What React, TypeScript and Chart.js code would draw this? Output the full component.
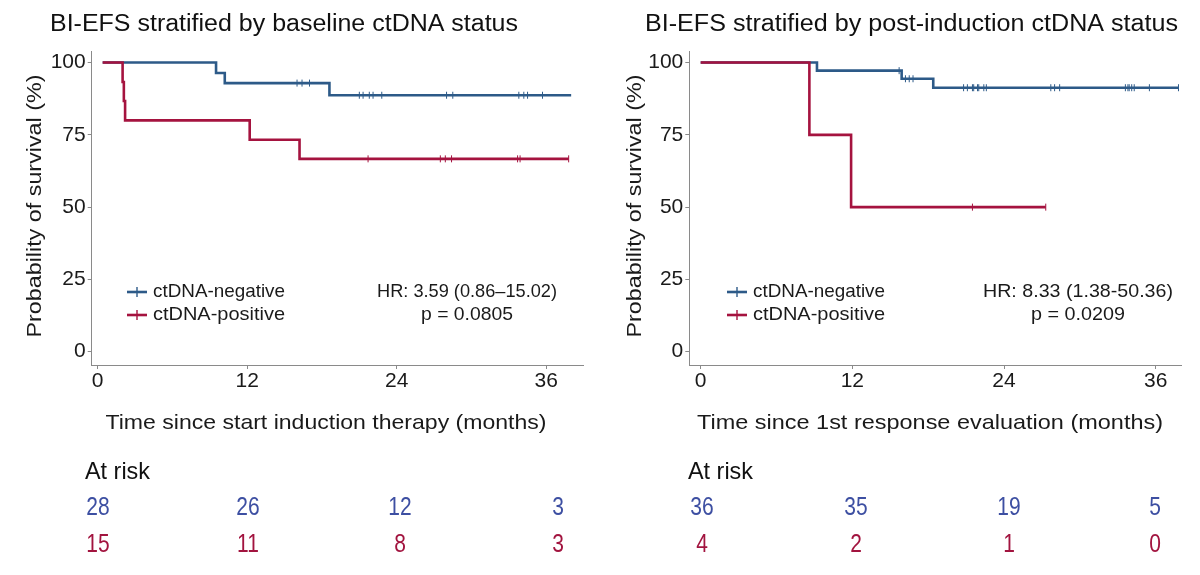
import React, { useEffect, useRef } from "react";
import { Chart, registerables } from "chart.js";

Chart.register(...registerables);

// ---------------- data ----------------
const X_TICKS = [0, 12, 24, 36];
const Y_TICKS = [0, 25, 50, 75, 100];

// Left panel: baseline ctDNA
const LEFT_NEG_T = [0.4, 9.5, 10.2, 18.6, 38.0];
const LEFT_NEG_S = [100, 96.4, 92.9, 88.7, 88.7];
const LEFT_NEG_CENSOR = [16.0, 16.4, 17.0, 21.0, 21.3, 21.8, 22.1, 22.8, 28.0, 28.5, 33.8, 34.2, 34.5, 35.7];
const LEFT_POS_T = [0.4, 2.0, 2.1, 2.2, 12.2, 16.2, 37.8];
const LEFT_POS_S = [100, 93.3, 86.7, 80.0, 73.3, 66.7, 66.7];
const LEFT_POS_CENSOR = [21.7, 27.5, 27.9, 28.4, 33.7, 33.9, 37.8];
const LEFT_RISK_NEG = [28, 26, 12, 3];
const LEFT_RISK_POS = [15, 11, 8, 3];

// Right panel: post-induction ctDNA
const RIGHT_NEG_T = [0, 9.2, 15.9, 18.4, 37.8];
const RIGHT_NEG_S = [100, 97.2, 94.4, 91.3, 91.3];
const RIGHT_NEG_CENSOR = [15.7, 16.2, 16.5, 16.8, 20.8, 21.1, 21.5, 21.6, 21.9, 22.0, 22.4, 22.6, 27.7, 28.0, 28.4, 33.6, 33.8, 33.9, 34.1, 34.3, 35.5, 37.8];
const RIGHT_POS_T = [0, 8.6, 11.9, 27.3];
const RIGHT_POS_S = [100, 75, 50, 50];
const RIGHT_POS_CENSOR = [21.5, 27.3];
const RIGHT_RISK_NEG = [36, 35, 19, 5];
const RIGHT_RISK_POS = [4, 2, 1, 0];

// text
const LEFT_TITLE = "BI-EFS stratified by baseline ctDNA status";
const RIGHT_TITLE = "BI-EFS stratified by post-induction ctDNA status";
const Y_TITLE = "Probability of survival (%)";
const LEFT_X_TITLE = "Time since start induction therapy (months)";
const RIGHT_X_TITLE = "Time since 1st response evaluation (months)";
const LEGEND_LABELS = ["ctDNA-negative", "ctDNA-positive"];
const LEFT_STATS = ["HR: 3.59 (0.86\u201315.02)", "p = 0.0805"];
const RIGHT_STATS = ["HR: 8.33 (1.38-50.36)", "p = 0.0209"];
const AT_RISK = "At risk";

// ---------------- style ----------------
const FONT = '"Liberation Sans", Arial, Helvetica, sans-serif';
const BLUE = "#2D5A88";
const RED = "#A5133F";
const BLUE_TXT = "#3D4FA2";
const RED_TXT = "#A2143F";
const AXIS = "#8a8a8a";
const TXT = "#1a1a1a";

function survAt(ts: number[], ss: number[], t: number) {
  let v = ss[0];
  for (let i = 0; i < ts.length; i++) if (ts[i] <= t) v = ss[i];
  return v;
}

function drawFit(
  ctx: CanvasRenderingContext2D,
  text: string,
  x: number,
  y: number,
  size: number,
  targetW: number | null,
  align: CanvasTextAlign,
  color: string,
  rotate = false,
  sxFixed = 1
) {
  ctx.save();
  ctx.font = `${size}px ${FONT}`;
  ctx.fillStyle = color;
  ctx.textBaseline = "middle";
  const w = ctx.measureText(text).width;
  const sx = targetW ? targetW / w : sxFixed;
  ctx.translate(x, y);
  if (rotate) ctx.rotate(-Math.PI / 2);
  ctx.scale(sx, 1);
  ctx.textAlign = align;
  ctx.fillText(text, 0, 0);
  ctx.restore();
}

type PanelCfg = {
  negT: number[]; negS: number[]; negC: number[];
  posT: number[]; posS: number[]; posC: number[];
  riskNeg: number[]; riskPos: number[]; riskX: number[];
  xMin: number; xMax: number; yAxisW: number; padRight: number;
  title: string; titleX: number; titleW: number;
  xTitle: string; xTitleX: number; xTitleW: number;
  stats: string[]; statsX: number; statsW: number[];
  atRiskX: number;
};

const LEFT_CFG: PanelCfg = {
  negT: LEFT_NEG_T, negS: LEFT_NEG_S, negC: LEFT_NEG_CENSOR,
  posT: LEFT_POS_T, posS: LEFT_POS_S, posC: LEFT_POS_CENSOR,
  riskNeg: LEFT_RISK_NEG, riskPos: LEFT_RISK_POS, riskX: [98, 248, 400, 558],
  xMin: -0.48, xMax: 38.95, yAxisW: 91.7, padRight: 17,
  title: LEFT_TITLE, titleX: 50, titleW: 468,
  xTitle: LEFT_X_TITLE, xTitleX: 326, xTitleW: 441,
  stats: LEFT_STATS, statsX: 467, statsW: [180, 92],
  atRiskX: 85,
};

const RIGHT_CFG: PanelCfg = {
  negT: RIGHT_NEG_T, negS: RIGHT_NEG_S, negC: RIGHT_NEG_CENSOR,
  posT: RIGHT_POS_T, posS: RIGHT_POS_S, posC: RIGHT_POS_CENSOR,
  riskNeg: RIGHT_RISK_NEG, riskPos: RIGHT_RISK_POS, riskX: [102, 256, 409, 555],
  xMin: -0.9, xMax: 38.0, yAxisW: 89.3, padRight: 19,
  title: RIGHT_TITLE, titleX: 45, titleW: 533,
  xTitle: RIGHT_X_TITLE, xTitleX: 330, xTitleW: 466,
  stats: RIGHT_STATS, statsX: 478, statsW: [190, 94],
  atRiskX: 88,
};

function Panel({ cfg }: { cfg: PanelCfg }) {
  const ref = useRef<HTMLCanvasElement | null>(null);
  useEffect(() => {
    if (!ref.current) return;
    const curve = (ts: number[], ss: number[]) => ts.map((t, i) => ({ x: t, y: ss[i] }));
    const censor = (ts: number[], ss: number[], cs: number[]) => cs.map((t) => ({ x: t, y: survAt(ts, ss, t) }));

    const overlay = {
      id: "overlay",
      afterDraw(chart: any) {
        const ctx: CanvasRenderingContext2D = chart.ctx;
        drawFit(ctx, cfg.title, cfg.titleX, 25, 23, cfg.titleW, "left", "#111");
        drawFit(ctx, Y_TITLE, 35, 206, 21, 263, "center", TXT, true);
        drawFit(ctx, cfg.xTitle, cfg.xTitleX, 423, 21, cfg.xTitleW, "center", TXT);
        const rows = [292, 315];
        const cols = [BLUE, RED];
        rows.forEach((ry, i) => {
          ctx.save();
          ctx.strokeStyle = cols[i];
          ctx.lineWidth = 2.6;
          ctx.beginPath();
          ctx.moveTo(127, ry);
          ctx.lineTo(147, ry);
          ctx.stroke();
          ctx.lineWidth = 1.4;
          ctx.beginPath();
          ctx.moveTo(137, ry - 5);
          ctx.lineTo(137, ry + 5);
          ctx.stroke();
          ctx.restore();
          drawFit(ctx, LEGEND_LABELS[i], 153, ry, 18.5, 132, "left", TXT);
          drawFit(ctx, cfg.stats[i], cfg.statsX, ry, 18.5, cfg.statsW[i], "center", TXT);
        });
        drawFit(ctx, AT_RISK, cfg.atRiskX, 472, 24, 65, "left", "#111");
        cfg.riskX.forEach((px, i) => {
          drawFit(ctx, String(cfg.riskNeg[i]), px, 508, 25, null, "center", BLUE_TXT, false, 0.84);
          drawFit(ctx, String(cfg.riskPos[i]), px, 545, 25, null, "center", RED_TXT, false, 0.84);
        });
      },
    };

    const censorDs = (data: any[], color: string) => ({
      type: "line" as const,
      data,
      showLine: false,
      pointStyle: "line",
      rotation: 90,
      pointRadius: 3.5,
      pointBorderWidth: 1,
      borderColor: color,
      pointBorderColor: color,
      backgroundColor: color,
    });

    const chart = new Chart(ref.current, {
      type: "line",
      data: {
        datasets: [
          {
            data: curve(cfg.posT, cfg.posS),
            borderColor: RED,
            borderWidth: 2.6,
            stepped: "before",
            pointRadius: 0,
            fill: false,
          },
          censorDs(censor(cfg.posT, cfg.posS, cfg.posC), RED),
          {
            data: curve(cfg.negT, cfg.negS),
            borderColor: BLUE,
            borderWidth: 2.6,
            stepped: "before",
            pointRadius: 0,
            fill: false,
          },
          censorDs(censor(cfg.negT, cfg.negS, cfg.negC), BLUE),
        ] as any,
      },
      options: {
        animation: false,
        responsive: false,
        events: [],
        layout: { padding: { top: 51, right: cfg.padRight, left: 0, bottom: 0 } },
        plugins: { legend: { display: false }, tooltip: { enabled: false }, title: { display: false } },
        scales: {
          x: {
            type: "linear",
            min: cfg.xMin,
            max: cfg.xMax,
            afterBuildTicks: (s: any) => { s.ticks = X_TICKS.map((v) => ({ value: v })); },
            afterFit: (s: any) => { s.height = 210; },
            ticks: { font: { family: FONT, size: 21 }, color: TXT, padding: 0, maxRotation: 0, autoSkip: false },
            grid: { drawOnChartArea: false, drawTicks: true, tickLength: 4, color: AXIS },
            border: { color: AXIS, width: 1 },
          },
          y: {
            type: "linear",
            min: -4.6,
            max: 104,
            afterBuildTicks: (s: any) => { s.ticks = Y_TICKS.map((v) => ({ value: v })); },
            afterFit: (s: any) => { s.width = cfg.yAxisW; },
            ticks: { font: { family: FONT, size: 21 }, color: TXT, padding: 2, autoSkip: false },
            grid: { drawOnChartArea: false, drawTicks: true, tickLength: 4, color: AXIS },
            border: { color: AXIS, width: 1 },
          },
        },
      } as any,
      plugins: [overlay],
    });
    return () => chart.destroy();
  }, [cfg]);
  return <canvas ref={ref} width={600} height={575} style={{ display: "block", width: 600, height: 575 }} />;
}

export default function App() {
  return (
    <div style={{ position: "fixed", left: 0, top: 0, width: 1200, height: 575, background: "#fff", display: "flex" }}>
      <Panel cfg={LEFT_CFG} />
      <Panel cfg={RIGHT_CFG} />
    </div>
  );
}
